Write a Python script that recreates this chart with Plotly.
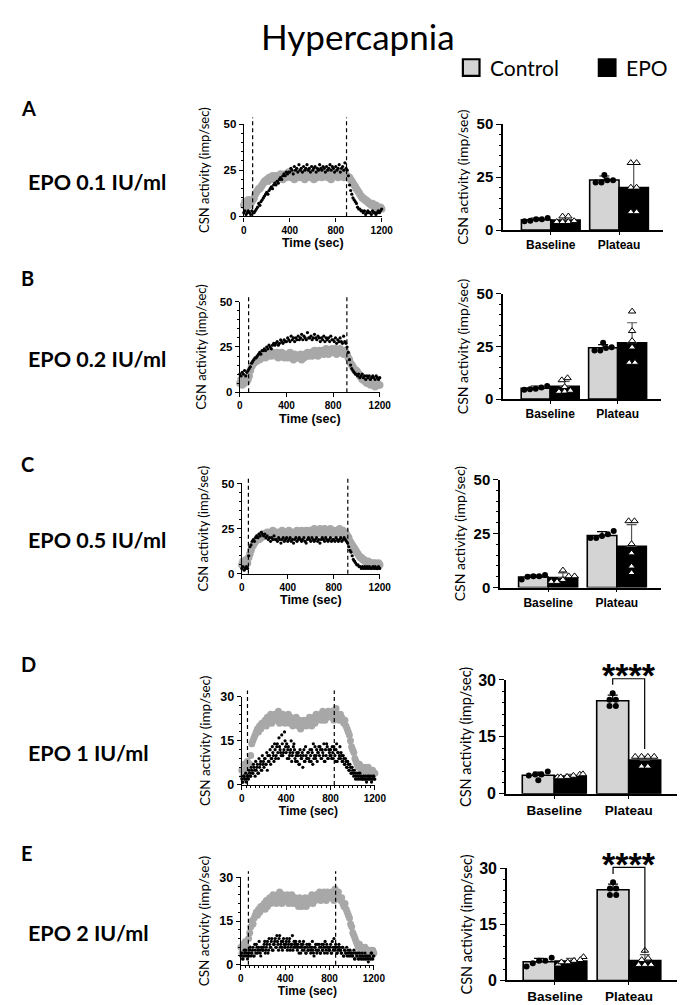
import numpy as np
import plotly.graph_objects as go

W, H = 685, 1005

# recording time (sec), one sample read every 10 s
time_sec = list(range(0, 1210, 10))
# extra samples between them for the noisiest traces (D, E EPO)
time_half = list(range(5, 1200, 10))

# ---- time courses (imp/sec) ----
ctrl_a = [6, 8, 5, 7, 9, 6, 7, 8, 9, 10,
          12, 13, 14, 15, 15, 16, 17, 18, 19, 19,
          20, 19, 21, 20, 21, 22, 20, 21, 22, 21,
          20, 21, 23, 22, 20, 22, 23, 21, 22, 24,
          22, 21, 23, 22, 20, 23, 22, 24, 21, 22,
          23, 21, 22, 20, 23, 22, 24, 22, 21, 23,
          22, 20, 23, 22, 21, 24, 22, 23, 21, 22,
          23, 22, 24, 21, 22, 23, 20, 22, 24, 23,
          22, 23, 21, 24, 22, 23, 22, 21, 23, 22,
          22, 21, 21, 20, 19, 18, 17, 16, 15, 14,
          13, 12, 11, 10, 10, 9, 9, 8, 8, 7,
          7, 6, 7, 6, 5, 6, 5, 5, 4, 5,
          4]
epo_a = [2, 3, 1, 2, 3, 2, 1, 3, 2, 2,
         3, 4, 5, 7, 6, 8, 9, 10, 11, 12,
         13, 12, 14, 15, 16, 15, 17, 18, 17, 19,
         18, 20, 21, 20, 22, 23, 22, 24, 23, 24,
         24, 26, 25, 23, 27, 25, 26, 24, 28, 25,
         26, 24, 27, 25, 26, 28, 25, 26, 24, 27,
         25, 26, 27, 24, 26, 25, 28, 26, 25, 27,
         26, 24, 27, 25, 26, 28, 25, 27, 26, 24,
         27, 25, 26, 28, 24, 26, 27, 25, 29, 26,
         25, 22, 17, 14, 12, 10, 9, 8, 7, 5,
         4, 4, 3, 3, 2, 3, 1, 2, 3, 2,
         2, 1, 3, 2, 2, 1, 2, 3, 2, 3,
         4]
ctrl_b = [5, 7, 4, 6, 5, 8, 6, 7, 9, 12,
          14, 15, 16, 17, 17, 18, 19, 18, 20, 19,
          20, 21, 19, 21, 20, 22, 21, 20, 22, 21,
          21, 20, 22, 19, 21, 20, 22, 21, 19, 20,
          21, 19, 20, 22, 19, 20, 18, 21, 20, 19,
          20, 19, 21, 18, 20, 19, 21, 20, 22, 20,
          21, 22, 20, 21, 23, 21, 22, 20, 23, 22,
          22, 23, 21, 22, 24, 22, 21, 23, 22, 24,
          23, 22, 24, 21, 23, 22, 24, 23, 22, 21,
          23, 22, 21, 19, 18, 16, 15, 14, 13, 12,
          12, 11, 10, 9, 8, 7, 7, 6, 6, 5,
          6, 5, 4, 5, 4, 5, 3, 4, 5, 4,
          4]
epo_b = [10, 9, 11, 10, 12, 9, 11, 12, 13, 14,
         16, 17, 18, 19, 19, 20, 21, 22, 21, 23,
         23, 24, 23, 25, 24, 26, 25, 24, 26, 27,
         26, 27, 28, 26, 27, 29, 28, 27, 29, 28,
         28, 30, 29, 28, 31, 29, 30, 28, 30, 29,
         31, 29, 30, 32, 29, 31, 30, 29, 33, 30,
         30, 31, 29, 30, 32, 30, 29, 31, 30, 28,
         30, 29, 31, 28, 30, 29, 30, 28, 31, 29,
         29, 28, 30, 27, 29, 28, 30, 28, 27, 31,
         28, 27, 25, 22, 18, 15, 13, 12, 11, 10,
         10, 9, 10, 8, 9, 10, 8, 9, 7, 9,
         8, 9, 7, 8, 9, 8, 7, 9, 8, 7,
         8]
ctrl_c = [5, 7, 6, 4, 8, 6, 9, 11, 13, 15,
          16, 17, 18, 19, 20, 19, 21, 20, 22, 21,
          22, 21, 23, 22, 21, 23, 22, 24, 22, 21,
          23, 22, 21, 23, 22, 24, 21, 22, 23, 22,
          22, 24, 21, 23, 22, 21, 23, 22, 24, 22,
          23, 22, 24, 21, 23, 22, 24, 23, 22, 24,
          23, 24, 22, 25, 23, 22, 24, 23, 25, 22,
          24, 23, 25, 22, 24, 23, 24, 25, 23, 22,
          24, 23, 22, 24, 23, 25, 22, 23, 24, 22,
          23, 22, 21, 20, 18, 17, 16, 15, 14, 13,
          12, 11, 10, 9, 9, 8, 8, 7, 7, 6,
          7, 6, 6, 5, 6, 5, 6, 5, 4, 6,
          5]
epo_c = [3, 4, 2, 3, 4, 3, 10, 15, 16, 18,
         19, 18, 20, 21, 20, 22, 21, 23, 22, 21,
         22, 20, 21, 19, 20, 18, 20, 19, 21, 19,
         19, 18, 20, 19, 17, 19, 20, 18, 19, 20,
         18, 19, 20, 18, 19, 17, 19, 20, 18, 19,
         20, 19, 18, 19, 20, 18, 17, 19, 20, 19,
         18, 20, 19, 18, 19, 20, 18, 19, 17, 19,
         20, 19, 18, 20, 19, 18, 19, 20, 18, 19,
         19, 18, 20, 19, 18, 19, 20, 18, 19, 20,
         19, 18, 17, 15, 13, 12, 10, 8, 7, 6,
         5, 5, 4, 4, 3, 4, 3, 4, 3, 4,
         3, 4, 3, 3, 4, 3, 4, 3, 3, 4,
         3]
ctrl_d = [5, 3, 7, 4, 6, 8, 5, 7, 10, 14,
          15, 16, 17, 18, 19, 18, 20, 19, 21, 20,
          21, 22, 20, 23, 21, 22, 24, 21, 23, 22,
          24, 22, 23, 25, 21, 23, 22, 24, 23, 21,
          23, 22, 24, 21, 23, 22, 20, 22, 21, 23,
          21, 20, 22, 19, 21, 20, 22, 21, 20, 22,
          21, 23, 22, 20, 22, 23, 21, 24, 22, 23,
          23, 24, 22, 25, 23, 22, 24, 23, 25, 24,
          24, 23, 25, 22, 24, 26, 23, 24, 22, 24,
          23, 22, 21, 22, 20, 19, 18, 17, 15, 13,
          12, 11, 9, 8, 7, 6, 7, 6, 5, 6,
          5, 6, 4, 5, 6, 4, 5, 3, 5, 4,
          4]
epo_d = [2, 1, 3, 2, 1, 3, 2, 4, 3, 5,
         4, 6, 3, 5, 7, 4, 6, 8, 5, 7,
         6, 9, 7, 5, 8, 10, 7, 9, 11, 8,
         12, 10, 14, 9, 13, 11, 17, 10, 12, 15,
         11, 9, 13, 10, 12, 8, 11, 14, 9, 10,
         8, 11, 7, 10, 9, 6, 12, 8, 10, 9,
         11, 8, 10, 12, 7, 9, 13, 10, 8, 11,
         10, 12, 9, 11, 14, 8, 10, 13, 9, 11,
         12, 9, 11, 13, 10, 12, 8, 11, 10, 9,
         10, 8, 9, 7, 8, 6, 7, 5, 6, 4,
         5, 3, 4, 3, 2, 4, 3, 2, 3, 2,
         3, 2, 2, 3, 2, 3, 2, 1, 2, 3,
         2]
epo_d_half = [1, 3, 2, 4, 2, 3, 5, 3, 6, 4,
              7, 5, 8, 6, 4, 9, 7, 5, 10, 8,
              9, 7, 11, 10, 8, 12, 9, 13, 10, 14,
              9, 13, 11, 16, 12, 10, 14, 11, 18, 13,
              14, 12, 9, 11, 15, 10, 13, 12, 8, 11,
              10, 7, 12, 9, 11, 10, 8, 13, 9, 11,
              9, 12, 8, 11, 14, 10, 9, 12, 11, 13,
              13, 9, 12, 10, 8, 12, 14, 9, 12, 10,
              10, 13, 9, 12, 8, 14, 11, 9, 13, 11,
              8, 10, 7, 9, 6, 8, 5, 7, 4, 6,
              4, 5, 2, 4, 3, 2, 4, 3, 2, 3,
              2, 3, 1, 2, 3, 2, 3, 2, 3, 2]
ctrl_e = [6, 4, 7, 5, 8, 5, 6, 9, 11, 13,
          15, 14, 16, 17, 18, 17, 19, 18, 20, 19,
          20, 21, 19, 22, 20, 21, 23, 21, 22, 24,
          22, 23, 21, 24, 22, 25, 23, 21, 24, 22,
          23, 22, 24, 21, 23, 22, 24, 21, 22, 23,
          21, 22, 20, 23, 21, 20, 22, 21, 23, 20,
          22, 21, 23, 22, 24, 21, 23, 22, 24, 23,
          23, 25, 22, 24, 23, 25, 24, 22, 25, 24,
          24, 23, 25, 24, 22, 26, 24, 23, 25, 23,
          22, 23, 21, 20, 21, 19, 18, 17, 16, 14,
          13, 11, 10, 9, 8, 7, 6, 7, 5, 6,
          5, 4, 6, 5, 4, 5, 3, 5, 4, 5,
          4]
epo_e = [3, 4, 2, 5, 3, 4, 2, 4, 5, 3,
         4, 6, 3, 5, 7, 4, 6, 5, 3, 6,
         5, 7, 4, 6, 8, 5, 7, 6, 9, 5,
         7, 9, 6, 8, 5, 10, 7, 6, 8, 7,
         6, 8, 5, 7, 9, 6, 7, 5, 8, 6,
         7, 5, 6, 8, 4, 6, 7, 5, 6, 4,
         6, 5, 7, 4, 6, 5, 3, 6, 5, 7,
         5, 6, 4, 7, 5, 6, 8, 5, 4, 6,
         5, 7, 4, 6, 9, 5, 6, 4, 5, 6,
         5, 4, 6, 3, 5, 4, 3, 5, 4, 3,
         4, 3, 5, 2, 4, 3, 2, 4, 3, 2,
         3, 2, 4, 2, 3, 1, 3, 2, 4, 2,
         3]
epo_e_half = [4, 2, 3, 4, 5, 3, 4, 3, 6, 4,
              5, 3, 7, 4, 6, 5, 8, 4, 6, 5,
              6, 8, 5, 7, 4, 9, 6, 8, 5, 7,
              8, 6, 10, 7, 9, 6, 8, 5, 9, 6,
              7, 9, 6, 8, 5, 7, 10, 6, 7, 8,
              6, 7, 4, 6, 7, 5, 8, 6, 4, 7,
              5, 7, 6, 5, 8, 4, 6, 7, 4, 5,
              7, 4, 6, 5, 7, 4, 6, 7, 6, 5,
              6, 4, 8, 5, 6, 7, 4, 6, 7, 5,
              4, 6, 3, 5, 4, 6, 4, 3, 5, 4,
              3, 4, 2, 4, 3, 4, 2, 3, 2, 4,
              2, 3, 2, 3, 2, 3, 2, 4, 2, 3]

# start / end of the hypercapnic challenge (sec)
dash_a = [77, 894]
dash_b = [75, 918]
dash_c = [57, 922]
dash_d = [51, 834]
dash_e = [68, 855]

# ---- summary bars: [Baseline, Plateau] ----
groups = ["Baseline", "Plateau"]

ctrl_mean_a, ctrl_sd_a = [4.9, 23.6], [0.8, 1.9]
epo_mean_a, epo_sd_a = [4.8, 20.1], [1.4, 11.4]
ctrl_pts_a = [[5.7, 5.1, 4.2, 5.1, 4.4], [22.4, 23.5, 23.5, 26.0, 22.4]]
epo_pts_a = [[6.5, 6.5, 3.9, 3.9, 3.9, 4.3], [31.7, 31.7, 20.1, 20.1, 8.5, 8.5]]

ctrl_mean_b, ctrl_sd_b = [5.1, 24.4], [1.1, 1.5]
epo_mean_b, epo_sd_b = [6.0, 26.8], [2.4, 9.5]
ctrl_pts_b = [[6.2, 5.5, 4.6, 4.4, 4.9], [24.3, 23.1, 24.6, 26.8, 23.1]]
epo_pts_b = [[9.0, 10.0, 5.8, 3.5, 3.6, 4.0], [41.7, 32.4, 27.7, 24.6, 17.3, 17.3]]

ctrl_mean_c, ctrl_sd_c = [4.9, 24.1], [0.9, 1.8]
epo_mean_c, epo_sd_c = [4.6, 19.1], [2.2, 10.0]
ctrl_pts_c = [[5.8, 3.8, 5.3, 5.0, 5.3], [24.7, 22.9, 23.9, 26.2, 22.9]]
epo_pts_c = [[8.0, 5.3, 5.3, 2.7, 2.7, 3.6], [30.8, 30.8, 20.2, 15.9, 9.8, 6.8]]

ctrl_mean_d, ctrl_sd_d = [4.9, 24.5], [0.8, 1.5]
epo_mean_d, epo_sd_d = [4.7, 8.9], [0.4, 1.0]
ctrl_pts_d = [[3.6, 5.1, 5.1, 5.9, 4.8], [23.1, 23.1, 26.5, 24.8, 24.8]]
epo_pts_d = [[5.1, 4.4, 4.8, 5.2, 4.5, 4.4], [9.8, 9.8, 9.8, 9.8, 7.2, 7.2]]

ctrl_mean_e, ctrl_sd_e = [5.0, 24.3], [0.9, 1.5]
epo_mean_e, epo_sd_e = [5.2, 5.3], [0.7, 1.6]
ctrl_pts_e = [[3.75, 5.3, 6.1, 5.3, 4.6], [22.9, 22.9, 26.3, 24.6, 24.6]]
epo_pts_e = [[4.3, 5.3, 4.9, 6.3, 4.9, 5.5], [5.5, 8.0, 4.2, 4.2, 4.2, 5.9]]

# significance Plateau Control vs EPO (bracket ends, imp/sec)
sig_d = dict(top=30.3, left=28.7, right=11.8, text="****", at=33.6)
sig_e = dict(top=30.3, left=28.5, right=7.3, text="****", at=33.6)

letters = ["A", "B", "C", "D", "E"]
doses = ["EPO 0.1 IU/ml", "EPO 0.2 IU/ml", "EPO 0.5 IU/ml", "EPO 1 IU/ml", "EPO 2 IU/ml"]
y_max = [50, 50, 50, 30, 30]

rows = [
    dict(ctrl=ctrl_a, epo=epo_a, extra=None, dash=dash_a, cm=ctrl_mean_a, cs=ctrl_sd_a,
         em=epo_mean_a, es=epo_sd_a, cp=ctrl_pts_a, ep=epo_pts_a, sig=None),
    dict(ctrl=ctrl_b, epo=epo_b, extra=None, dash=dash_b, cm=ctrl_mean_b, cs=ctrl_sd_b,
         em=epo_mean_b, es=epo_sd_b, cp=ctrl_pts_b, ep=epo_pts_b, sig=None),
    dict(ctrl=ctrl_c, epo=epo_c, extra=None, dash=dash_c, cm=ctrl_mean_c, cs=ctrl_sd_c,
         em=epo_mean_c, es=epo_sd_c, cp=ctrl_pts_c, ep=epo_pts_c, sig=None),
    dict(ctrl=ctrl_d, epo=epo_d, extra=epo_d_half, dash=dash_d, cm=ctrl_mean_d, cs=ctrl_sd_d,
         em=epo_mean_d, es=epo_sd_d, cp=ctrl_pts_d, ep=epo_pts_d, sig=sig_d),
    dict(ctrl=ctrl_e, epo=epo_e, extra=epo_e_half, dash=dash_e, cm=ctrl_mean_e, cs=ctrl_sd_e,
         em=epo_mean_e, es=epo_sd_e, cp=ctrl_pts_e, ep=epo_pts_e, sig=sig_e),
]

# ---- page geometry (pixels): x0, x1, top, bottom ----
time_box = [(238, 379, 109, 203), (234, 377, 290, 382), (236, 377, 475, 567),
            (236, 372, 692, 782), (235, 371, 876, 965)]
bar_box = [(503, 667, 109, 217), (503, 665, 282, 389), (500, 665, 471, 581),
           (506, 684, 675, 791), (507, 684, 867, 981)]
bar_xrange = [[-0.70, 1.65]] * 3 + [[-0.65, 1.69]] * 2

GREY_PT = "rgb(168,168,168)"
GREY_BAR = "rgb(212,212,212)"
BW = 0.43
ARIAL = "Liberation Sans"
CAL = "Lato"


def dom_x(a, b):
    return [a / W, b / W]


def dom_y(top, bot):
    return [1 - bot / H, 1 - top / H]


def sfx(n):
    return "" if n == 1 else str(n)


def spread(vals, ymax, step=0.085):
    # side-by-side placement of points with similar values
    order = sorted(range(len(vals)), key=lambda i: vals[i])
    clusters = []
    for i in order:
        if clusters and vals[i] - vals[clusters[-1][-1]] < ymax * 0.035:
            clusters[-1].append(i)
        else:
            clusters.append([i])
    offs = [0.0] * len(vals)
    for c in clusters:
        m = len(c)
        for k, i in enumerate(c):
            offs[i] = float(np.clip((k - (m - 1) / 2) * step, -0.17, 0.17))
    return offs


fig = go.Figure()
shapes, annos = [], []

for r, row in enumerate(rows):
    ti, bi = r + 1, r + 6
    tx, ty = "x" + sfx(ti), "y" + sfx(ti)
    bx, by = "x" + sfx(bi), "y" + sfx(bi)
    big = r >= 3
    ym = y_max[r]

    # time course
    fig.add_trace(go.Scatter(x=time_sec, y=row["ctrl"], mode="markers", xaxis=tx, yaxis=ty,
                             marker=dict(color=GREY_PT, size=7 if big else 7.5),
                             cliponaxis=False, showlegend=False))
    fig.add_trace(go.Scatter(x=time_sec, y=row["epo"], mode="markers", xaxis=tx, yaxis=ty,
                             marker=dict(color="black", size=3.2), cliponaxis=False, showlegend=False))
    if row["extra"]:
        fig.add_trace(go.Scatter(x=time_half, y=row["extra"], mode="markers", xaxis=tx, yaxis=ty,
                                 marker=dict(color="black", size=3.2), cliponaxis=False,
                                 showlegend=False))
    for t in row["dash"]:
        shapes.append(dict(type="line", xref=tx, yref=ty + " domain", x0=t, x1=t, y0=0, y1=1.07,
                           line=dict(color="black", width=1.2, dash="4px,3px")))

    # bars
    gx = np.arange(len(groups))
    fig.add_trace(go.Bar(x=gx, y=row["cm"], width=BW, offset=-BW, xaxis=bx, yaxis=by,
                         marker=dict(color=GREY_BAR, line=dict(color="black", width=1.6)),
                         error_y=dict(type="data", array=row["cs"], arrayminus=[0, 0], symmetric=False,
                                      color="black", thickness=1.2, width=5),
                         showlegend=False))
    fig.add_trace(go.Bar(x=gx, y=row["em"], width=BW, offset=0, xaxis=bx, yaxis=by,
                         marker=dict(color="black", line=dict(color="black", width=1.6)),
                         error_y=dict(type="data", array=row["es"], arrayminus=[0, 0], symmetric=False,
                                      color="#555555", thickness=1.2, width=5),
                         showlegend=False))
    for g in range(len(groups)):
        cv, ev = row["cp"][g], row["ep"][g]
        fig.add_trace(go.Scatter(x=[g - BW / 2 + o for o in spread(cv, ym)], y=cv, mode="markers",
                                 xaxis=bx, yaxis=by, cliponaxis=False, showlegend=False,
                                 marker=dict(symbol="circle", color="black", size=6)))
        fig.add_trace(go.Scatter(x=[g + BW / 2 + o for o in spread(ev, ym)], y=ev, mode="markers",
                                 xaxis=bx, yaxis=by, cliponaxis=False, showlegend=False,
                                 marker=dict(symbol="triangle-up", color="white", size=6.5,
                                             line=dict(color="black", width=1))))

    x0, x1, top, bot = bar_box[r]
    sig = row["sig"]
    if sig:
        xl, xr = 1 - BW / 2, 1 + BW / 2
        shapes.append(dict(type="path", xref=bx, yref=by + " domain",
                           path=f"M{xl},{sig['left'] / ym} L{xl},{sig['top'] / ym} "
                                f"L{xr},{sig['top'] / ym} L{xr},{sig['right'] / ym}",
                           line=dict(color="black", width=1.2)))
        py = bot - (bot - top) * sig["at"] / ym
        annos.append(dict(text=f"<b>{sig['text']}</b>", xref=bx, yref="paper", x=1, y=1 - py / H,
                          yshift=-9, xanchor="center", yanchor="middle", showarrow=False,
                          font=dict(family=ARIAL, size=34, color="black")))

    # axes
    tx0, tx1, ttop, tbot = time_box[r]
    tick_y = [0, ym / 2, ym]
    fig.layout["xaxis" + sfx(ti)] = dict(
        domain=dom_x(tx0, tx1), anchor=ty, range=[0, 1200], tickvals=[0, 400, 800, 1200],
        showline=True, linecolor="black", linewidth=1.3, ticks="outside", ticklen=4, tickwidth=1.3,
        tickcolor="black", showgrid=False, zeroline=False,
        tickfont=dict(family=ARIAL, size=10, color="black", weight="bold"),
        minor=dict(dtick=40, ticks="outside", ticklen=2, tickcolor="black") if big else None,
        title=dict(text="Time (sec)", standoff=3,
                   font=dict(family=ARIAL, size=12 if big else 12.5, color="black", weight="bold")))
    fig.layout["yaxis" + sfx(ti)] = dict(
        domain=dom_y(ttop, tbot), anchor=tx, range=[0, ym], tickvals=tick_y,
        showline=True, linecolor="black", linewidth=1.3, ticks="outside", ticklen=4, tickwidth=1.3,
        tickcolor="black", showgrid=False, zeroline=False,
        tickfont=dict(family=ARIAL, size=12.5 if big else 11.5, color="black", weight="bold"),
        minor=dict(dtick=3 if big else 5, ticks="outside", ticklen=2, tickcolor="black"),
        title=dict(text="CSN activity (imp/sec)", standoff=6 if big else 10,
                   font=dict(family=CAL, size=13.5 if big else 13, color="black")))

    fig.layout["xaxis" + sfx(bi)] = dict(
        domain=dom_x(x0, x1), anchor=by, range=bar_xrange[r], tickvals=list(gx), ticktext=groups,
        showline=True, linecolor="black", linewidth=1.5, ticks="outside", ticklen=3, tickwidth=1.3,
        tickcolor="black", showgrid=False, zeroline=False,
        tickfont=dict(family=ARIAL, size=13.5 if big else 12, color="black", weight="bold"))
    fig.layout["yaxis" + sfx(bi)] = dict(
        domain=dom_y(top, bot), anchor=bx, range=[0, ym], tickvals=tick_y,
        showline=True, linecolor="black", linewidth=1.5, ticks="outside", ticklen=5, tickwidth=1.3,
        tickcolor="black", showgrid=False, zeroline=False,
        tickfont=dict(family=ARIAL, size=16 if big else 15, color="black", weight="bold"),
        minor=dict(dtick=3 if big else 5, ticks="outside", ticklen=2.5, tickcolor="black"),
        title=dict(text="CSN activity (imp/sec)", standoff=3 if big else 5,
                   font=dict(family=CAL, size=14.5 if big else 14, color="black")))

    # row labels
    annos.append(dict(text=f"<b>{letters[r]}</b>", xref="paper", yref="paper", x=8 / W,
                      y=1 - (top - 16) / H, xanchor="left", yanchor="middle", showarrow=False,
                      font=dict(family=CAL, size=20, color="black")))
    annos.append(dict(text=f"<b>{doses[r]}</b>", xref="paper", yref="paper", x=15 / W,
                      y=1 - ((ttop + tbot) / 2 + 12) / H, xanchor="left", yanchor="middle",
                      showarrow=False, font=dict(family=CAL, size=21.5, color="black")))

# title and legend
annos.append(dict(text="Hypercapnia", xref="paper", yref="paper", x=355 / W, y=1 - 19 / H,
                  xanchor="center", yanchor="middle", showarrow=False,
                  font=dict(family=CAL, size=35, color="black")))
for sx, fill, name in [(462, GREY_BAR, "Control"), (601, "black", "EPO")]:
    shapes.append(dict(type="rect", xref="paper", yref="paper", x0=sx / W, x1=(sx + 17) / W,
                       y0=1 - 60 / H, y1=1 - 43 / H, fillcolor=fill,
                       line=dict(color="black", width=2.2)))
    annos.append(dict(text=name, xref="paper", yref="paper", x=(sx + 26) / W, y=1 - 51 / H,
                      xanchor="left", yanchor="middle", showarrow=False,
                      font=dict(family=CAL, size=21, color="black")))

fig.update_layout(width=W, height=H, margin=dict(l=0, r=0, t=0, b=0),
                  paper_bgcolor="white", plot_bgcolor="white", showlegend=False,
                  barmode="overlay", shapes=shapes, annotations=annos,
                  font=dict(family=ARIAL, color="black"))

fig.write_html("out.html")
